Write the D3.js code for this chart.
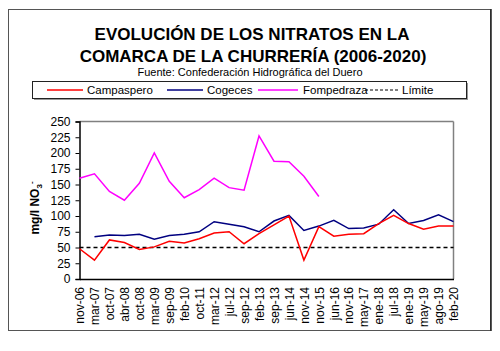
<!DOCTYPE html>
<html><head><meta charset="utf-8">
<script src="https://cdn.jsdelivr.net/npm/d3@7"></script>
<style>body{margin:0;background:#fff}svg{display:block}text{font-family:Arial,"Liberation Sans",sans-serif}</style>
</head><body><svg id="c" width="500" height="351"></svg>
<script>
const categories = ["nov-06","mar-07","oct-07","abr-08","oct-08","mar-09","sep-09","feb-10","oct-11","mar-12","jul-12","sep-12","feb-13","sep-13","jun-14","nov-14","nov-15","jun-16","nov-16","may-17","ene-18","jul-18","ene-19","may-19","ago-19","feb-20"];
const campaspero = [48,30,62,58,47,51,60,57,64,73,75,56,72,86,100,30,83,68,71,72,88,101,88,79,84,84];
const cogeces = [null,67,70,69,71,63,69,71,75,91,87,83,75,92,101,77,84,93,80,81,87,110,88,93,102,91];
const fompedraza = [160,167,139,125,152,200,155,129,142,160,145,141,227,187,186,163,131,null,null,null,null,null,null,null,null,null];
const limite = categories.map(() => 50);
const yTicks = [0,25,50,75,100,125,150,175,200,225,250];
const seriesNames = ["Campaspero","Cogeces","Fompedraza","Límite"];

const svg = d3.select("#c");
const L = 79.5, R = 453.5, T = 121.5, B = 279;
const x = d3.scalePoint().domain(categories).range([L, R]);
const y = d3.scaleLinear().domain([0, 250]).range([B, T]);

// outer border
svg.append("rect").attr("x",8.5).attr("y",9.5).attr("width",482).attr("height",321)
  .attr("fill","none").attr("stroke","#555");
svg.append("line").attr("x1",491).attr("x2",491).attr("y1",9).attr("y2",331).attr("stroke","#222").attr("stroke-width",1.5);

// titles
svg.append("text").attr("x",252).attr("y",39.5).attr("text-anchor","middle")
  .attr("font-size",17).attr("font-weight","bold").text("EVOLUCIÓN DE LOS NITRATOS EN LA");
svg.append("text").attr("x",253).attr("y",62).attr("text-anchor","middle")
  .attr("font-size",17).attr("font-weight","bold").text("COMARCA DE LA CHURRERÍA (2006-2020)");
svg.append("text").attr("x",250).attr("y",76).attr("text-anchor","middle")
  .attr("font-size",11).text("Fuente: Confederación Hidrográfica del Duero");

// legend
svg.append("rect").attr("x",34).attr("y",83).attr("width",434).attr("height",17).attr("fill","#999");
svg.append("rect").attr("x",32.5).attr("y",81.5).attr("width",434).attr("height",17)
  .attr("fill","#fff").attr("stroke","#222");
const legItems = [
  {name:seriesNames[0], color:"#ff0000", x1:47, x2:83, tx:87, dash:null},
  {name:seriesNames[1], color:"#000080", x1:167, x2:203, tx:207, dash:null},
  {name:seriesNames[2], color:"#ff00ff", x1:258, x2:298, tx:303, dash:null},
  {name:seriesNames[3], color:"#000", x1:365, x2:398, tx:402, dash:"3,2"}
];
legItems.forEach(d => {
  svg.append("line").attr("x1",d.x1).attr("x2",d.x2).attr("y1",90).attr("y2",90)
    .attr("stroke",d.color).attr("stroke-width",d.dash?1:1.5).attr("stroke-dasharray",d.dash);
  svg.append("text").attr("x",d.tx).attr("y",94).attr("font-size",11.5).attr("fill","#000").text(d.name);
});

// plot frame
svg.append("line").attr("x1",L).attr("x2",R).attr("y1",T).attr("y2",T).attr("stroke","#808080").attr("stroke-width",1.5);
svg.append("line").attr("x1",R).attr("x2",R).attr("y1",T).attr("y2",B).attr("stroke","#808080").attr("stroke-width",1.5);

// y axis
const ya = svg.append("g").attr("transform",`translate(${L},0)`)
  .call(d3.axisLeft(y).tickValues(yTicks).tickSize(4).tickPadding(5));
ya.select(".domain").attr("stroke","#000").attr("stroke-width",1.5);
ya.selectAll("line").attr("stroke","#000");
ya.selectAll("text").attr("font-size",12).attr("font-family","Arial, 'Liberation Sans', sans-serif").attr("fill","#000");

// x axis
const xa = svg.append("g").attr("transform",`translate(0,${B})`)
  .call(d3.axisBottom(x).tickSize(0).tickPadding(0));
xa.select(".domain").attr("stroke","#000").attr("stroke-width",1.5);
xa.selectAll("text").attr("font-size",12).attr("font-family","Arial, 'Liberation Sans', sans-serif").attr("fill","#000")
  .attr("transform","rotate(-90)").attr("text-anchor","end").attr("x",-8).attr("y",0).attr("dy","0.35em");

// y label
const yl = svg.append("text").attr("transform","translate(39,208) rotate(-90)").attr("text-anchor","middle")
  .attr("font-size",12).attr("font-weight","bold");
yl.append("tspan").text("mg/l NO");
yl.append("tspan").attr("font-size",8).attr("dy",3).text("3");
yl.append("tspan").attr("font-size",8).attr("dy",-8).text("-");

// series
const line = d3.line().defined(d => d.v != null).x(d => x(d.c)).y(d => y(d.v));
const mk = arr => categories.map((c,i) => ({c, v: arr[i]}));
svg.append("path").datum(mk(limite)).attr("d",line).attr("fill","none").attr("stroke","#000")
  .attr("stroke-width",1.3).attr("stroke-dasharray","4,3");
[[fompedraza,"#ff00ff"],[cogeces,"#000080"],[campaspero,"#ff0000"]].forEach(([arr,col]) => {
  svg.append("path").datum(mk(arr)).attr("d",line).attr("fill","none").attr("stroke",col).attr("stroke-width",1.5);
});
</script></body></html>
